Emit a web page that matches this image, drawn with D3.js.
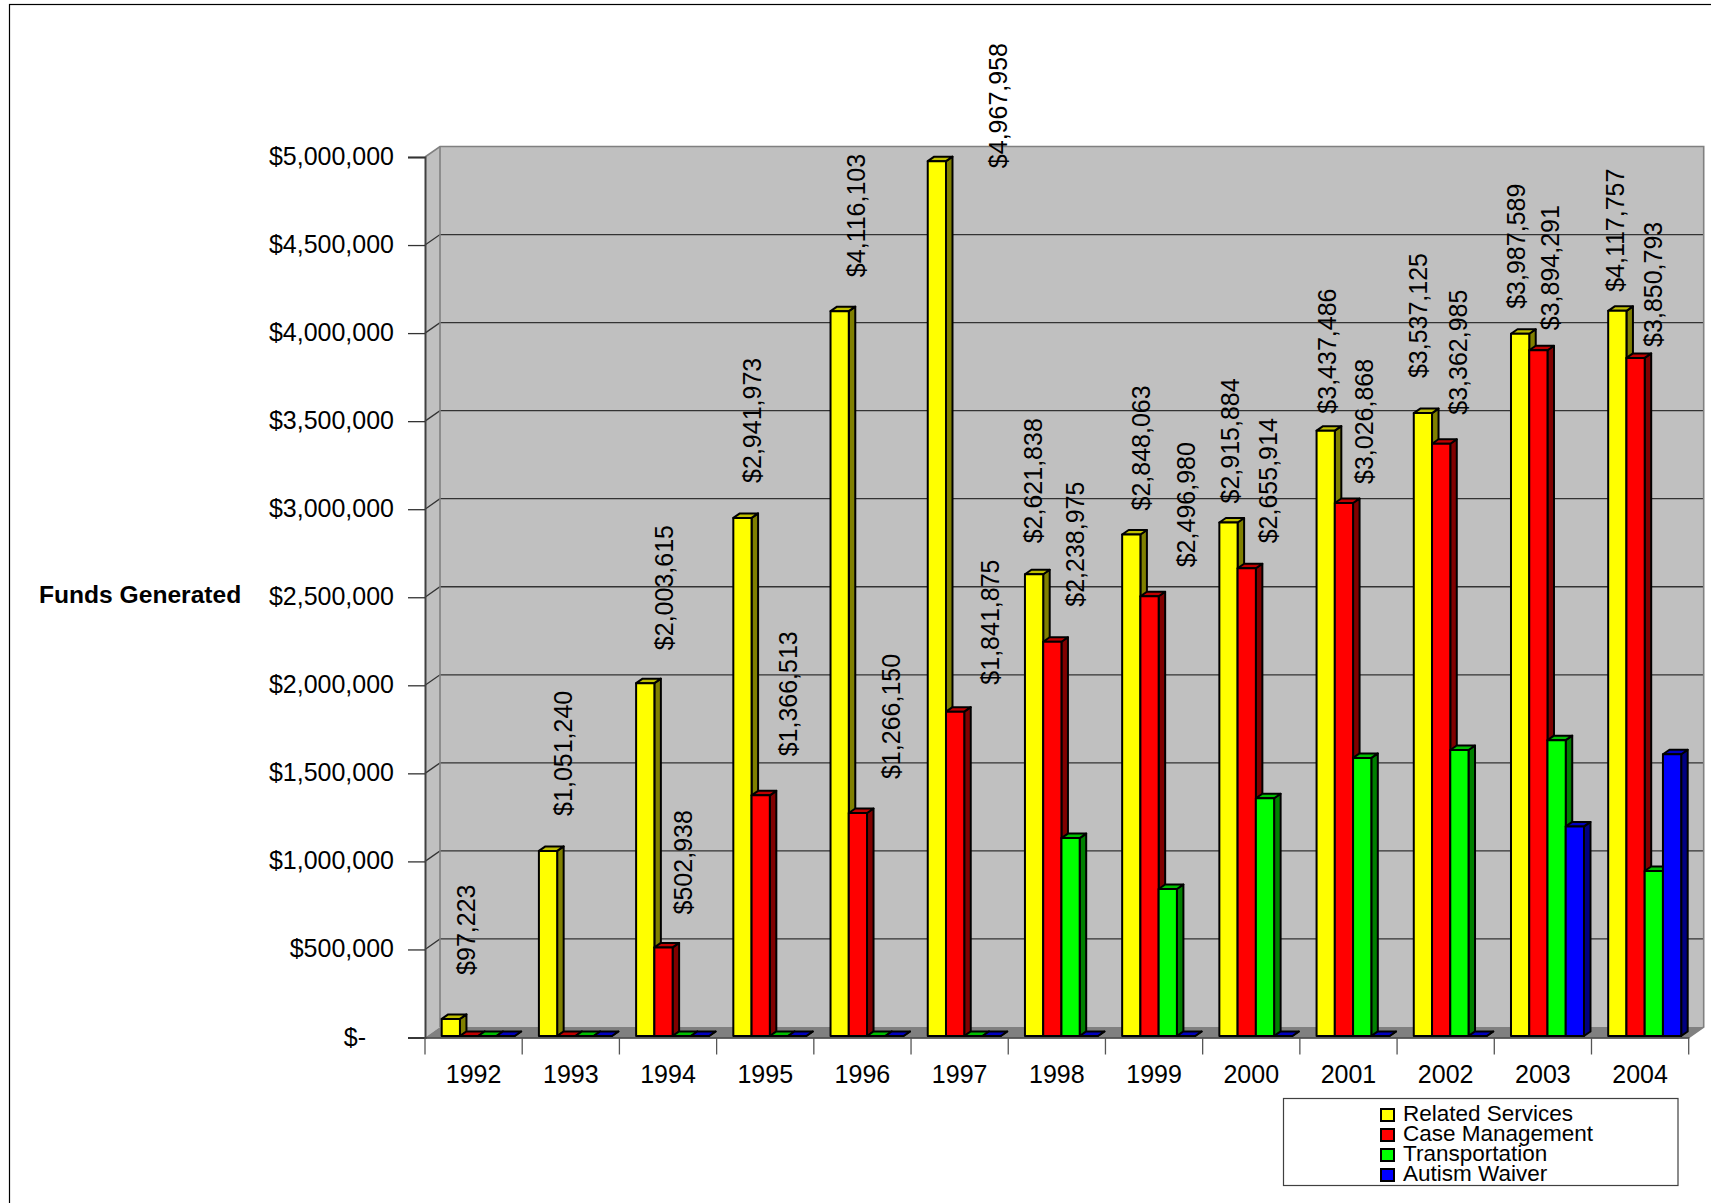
<!DOCTYPE html>
<html>
<head>
<meta charset="utf-8">
<script src="https://cdn.jsdelivr.net/npm/d3@7"></script>
<style>
  html, body { margin: 0; background: #fff; }
  text { font-family: "Liberation Sans", Arial, sans-serif; fill: #000; }
</style>
</head>
<body>
<div id="chart"></div>
<script>
const years = ["1992","1993","1994","1995","1996","1997","1998","1999","2000","2001","2002","2003","2004"];
const seriesNames = ["Related Services","Case Management","Transportation","Autism Waiver"];
const relatedServices = [97223,1051240,2003615,2941973,4116103,4967958,2621838,2848063,2915884,3437486,3537125,3987589,4117757];
const caseManagement = [0,0,502938,1366513,1266150,1841875,2238975,2496980,2655914,3026868,3362985,3894291,3850793];
const transportation = [0,0,0,0,0,0,1124000,835000,1350000,1579000,1624000,1680000,937000];
const autismWaiver = [0,0,0,0,0,0,0,0,0,0,0,1190000,1600000];
const yTicks = [0,500000,1000000,1500000,2000000,2500000,3000000,3500000,4000000,4500000,5000000];

// the data labels were dragged by hand in the original, so each one has its own nudge
const yellowLabelDx = [15,15,19,10,16,61,-1,10,2,1,-5,-4,-2];
const yellowLabelGap = [44,35,33,35,34,-7,31,24,19,17,35,25,19];
const redLabelDx = [0,0,20,27,33,35,23,36,21,20,17,12,17];
const redLabelGap = [0,0,33,39,34,27,35,29,25,19,29,20,11];

const fronts = ["#ffff00","#ff0000","#00ff00","#0000ff"];
const tops = ["#c0c000","#c00000","#00c000","#0000c0"];
const sides = ["#808000","#800000","#008000","#000080"];

const width = 1711;
const height = 1203;
const plot = { left: 425, right: 1688.7, top: 157, bottom: 1037.5 };
const depth = { x: 15, y: -10.5 };
const barDepth = { x: 6.5, y: -4.5 };
const fontSize = 25;

const svg = d3.select("#chart").append("svg")
  .attr("width", width)
  .attr("height", height)
  .style("display", "block");

// outer frame runs off the bottom and right of the picture
svg.append("rect")
  .attr("x", 9.5).attr("y", 4.5)
  .attr("width", width + 20).attr("height", height + 20)
  .attr("fill", "#fff").attr("stroke", "#000").attr("stroke-width", 1.2);

const x0 = d3.scaleBand().domain(years).range([plot.left, plot.right]);
const x1 = d3.scaleBand().domain(seriesNames).range([16.7, 89.7]);
const y = d3.scaleLinear().domain([0, 5000000]).range([plot.bottom, plot.top]);

const pts = a => a.map(p => p.join(",")).join(" ");

// walls and floor
svg.append("polygon")
  .attr("points", pts([
    [plot.left, plot.top], [plot.left + depth.x, plot.top + depth.y],
    [plot.right + depth.x, plot.top + depth.y], [plot.right + depth.x, plot.bottom + depth.y],
    [plot.left + depth.x, plot.bottom + depth.y], [plot.left, plot.bottom]
  ]))
  .attr("fill", "#c0c0c0");

svg.append("polygon")
  .attr("points", pts([
    [plot.left, plot.bottom], [plot.left + depth.x, plot.bottom + depth.y],
    [plot.right + depth.x, plot.bottom + depth.y], [plot.right, plot.bottom]
  ]))
  .attr("fill", "#808080");

// gridlines on the back wall, with the diagonal on the side wall
svg.append("g").selectAll("polyline")
  .data(yTicks.filter(d => d > 0 && d < 5000000))
  .enter()
  .append("polyline")
  .attr("points", d => pts([
    [plot.left, y(d)], [plot.left + depth.x, y(d) + depth.y], [plot.right + depth.x, y(d) + depth.y]
  ]))
  .attr("fill", "none")
  .attr("stroke", "#333")
  .attr("stroke-width", 1.3);

// grey wall edges
svg.append("polyline")
  .attr("points", pts([
    [plot.left, plot.top], [plot.left + depth.x, plot.top + depth.y],
    [plot.right + depth.x, plot.top + depth.y], [plot.right + depth.x, plot.bottom + depth.y], [plot.right, plot.bottom]
  ]))
  .attr("fill", "none").attr("stroke", "#808080").attr("stroke-width", 1.6);
svg.append("line")
  .attr("x1", plot.left + depth.x).attr("x2", plot.left + depth.x)
  .attr("y1", plot.top + depth.y).attr("y2", plot.bottom + depth.y)
  .attr("stroke", "#808080").attr("stroke-width", 1.6);

// axes
const yAxis = svg.append("g")
  .attr("transform", `translate(${plot.left},0)`)
  .call(d3.axisLeft(y).tickValues(yTicks).tickSize(17).tickPadding(14)
    .tickFormat(d => d === 0 ? "$-" : d3.format("$,")(d)));
yAxis.select(".domain").attr("stroke", "#404040").attr("stroke-width", 2);
yAxis.selectAll(".tick line").attr("stroke", "#333").attr("stroke-width", 1.3);
yAxis.selectAll(".tick text")
  .attr("font-size", fontSize)
  .attr("font-family", null)
  .attr("dy", "0.3em")
  .attr("x", d => d === 0 ? -59 : -31);

const xAxis = svg.append("g")
  .attr("transform", `translate(0,${plot.bottom})`)
  .call(d3.axisBottom(x0).tickSize(0).tickPadding(28));
xAxis.select(".domain").attr("stroke", "#333").attr("stroke-width", 1.3);
xAxis.selectAll(".tick text").attr("font-size", fontSize).attr("font-family", null);

svg.append("g").selectAll("line")
  .data(years.concat("end"))
  .enter()
  .append("line")
  .attr("x1", (d, i) => plot.left + i * x0.bandwidth())
  .attr("x2", (d, i) => plot.left + i * x0.bandwidth())
  .attr("y1", plot.bottom)
  .attr("y2", plot.bottom + 17)
  .attr("stroke", "#555")
  .attr("stroke-width", 1.3);

// 3D bars, drawn left to right so each front covers the side of the previous one
const allSeries = [relatedServices, caseManagement, transportation, autismWaiver];
const barBase = plot.bottom - 1.5;
const barTop = v => y(v) - 1.5;

years.forEach((year, yi) => {
  seriesNames.forEach((name, si) => {
    const v = allSeries[si][yi];
    const xa = x0(year) + x1(name);
    const xb = xa + x1.bandwidth();
    const g = svg.append("g").attr("stroke", "#000").attr("stroke-width", 2).attr("stroke-linejoin", "round");
    g.append("polygon")
      .attr("points", pts([
        [xb, barTop(v)], [xb + barDepth.x, barTop(v) + barDepth.y],
        [xb + barDepth.x, barBase + barDepth.y], [xb, barBase]
      ]))
      .attr("fill", sides[si]);
    g.append("polygon")
      .attr("points", pts([
        [xa, barTop(v)], [xa + barDepth.x, barTop(v) + barDepth.y],
        [xb + barDepth.x, barTop(v) + barDepth.y], [xb, barTop(v)]
      ]))
      .attr("fill", tops[si]);
    if (v > 0) {
      g.append("rect")
        .attr("x", xa).attr("y", barTop(v))
        .attr("width", x1.bandwidth()).attr("height", barBase - barTop(v))
        .attr("fill", fronts[si]);
    }
  });
});

// value labels, yellow and red only
const addLabels = (values, name, dxs, gaps) => {
  svg.append("g").selectAll("text")
    .data(values.map((v, i) => ({ v, i })).filter(d => d.v > 0))
    .enter()
    .append("text")
    .attr("font-size", fontSize)
    .attr("transform", d => {
      const cx = x0(years[d.i]) + x1(name) + x1.bandwidth() / 2 + dxs[d.i];
      return `translate(${cx + fontSize * 0.36},${barTop(d.v) - gaps[d.i]}) rotate(-90)`;
    })
    .text(d => d3.format("$,")(d.v));
};
addLabels(relatedServices, seriesNames[0], yellowLabelDx, yellowLabelGap);
addLabels(caseManagement, seriesNames[1], redLabelDx, redLabelGap);

svg.append("text")
  .attr("x", 39).attr("y", 603)
  .attr("font-size", 24.6)
  .attr("font-weight", "bold")
  .text("Funds Generated");

// legend
const legend = svg.append("g");
legend.append("rect")
  .attr("x", 1283.5).attr("y", 1098.5)
  .attr("width", 394.5).attr("height", 87)
  .attr("fill", "#fff").attr("stroke", "#404040").attr("stroke-width", 1.2);
const row = legend.selectAll("g")
  .data(seriesNames)
  .enter()
  .append("g")
  .attr("transform", (d, i) => `translate(1381,${1109 + i * 20})`);
row.append("rect")
  .attr("width", 13).attr("height", 12)
  .attr("fill", (d, i) => fronts[i])
  .attr("stroke", "#000").attr("stroke-width", 2);
row.append("text")
  .attr("x", 22).attr("y", 12)
  .attr("font-size", 22.5)
  .text(d => d);
</script>
</body>
</html>
